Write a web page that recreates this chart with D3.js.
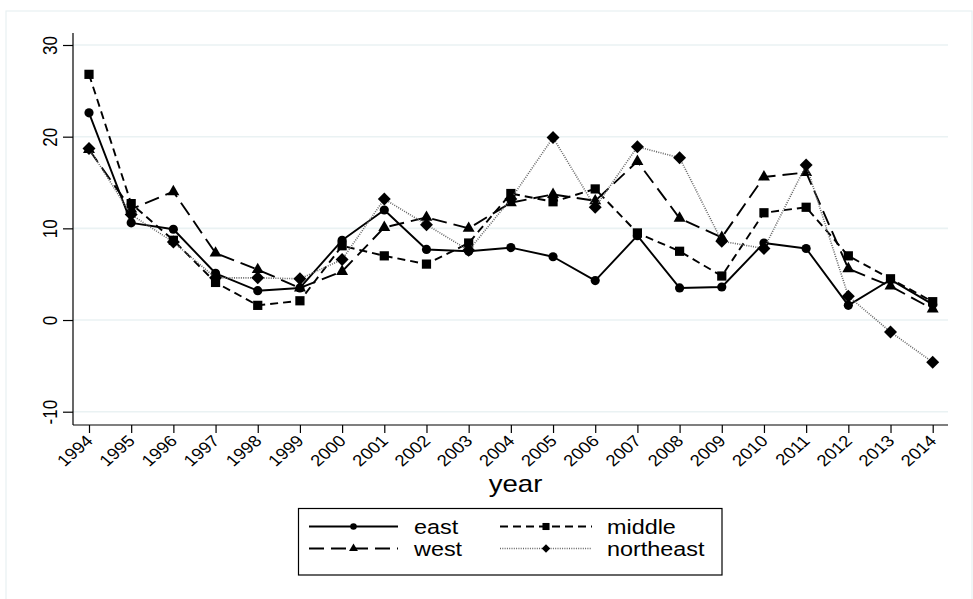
<!DOCTYPE html>
<html>
<head>
<meta charset="utf-8">
<script src="https://cdn.jsdelivr.net/npm/d3@7"></script>
<style>
  html, body { margin: 0; padding: 0; background: #fff; }
  svg { display: block; font-family: "Liberation Sans", Arial, Helvetica, sans-serif; }
</style>
</head>
<body>
<svg id="chart" width="973" height="599"></svg>
<script>
// Annual values by region, 1994-2014
const years = [1994,1995,1996,1997,1998,1999,2000,2001,2002,2003,2004,2005,2006,2007,2008,2009,2010,2011,2012,2013,2014];
const east      = [22.6,10.6,9.9,5.1,3.2,3.5,8.7,12.0,7.7,7.5,7.9,6.9,4.3,9.2,3.5,3.6,8.4,7.8,1.6,4.4,1.7];
const middle    = [26.8,12.7,8.7,4.1,1.6,2.1,8.1,7.0,6.1,8.4,13.8,12.9,14.3,9.5,7.5,4.8,11.7,12.3,7.0,4.5,2.0];
const west      = [18.6,12.1,14.0,7.3,5.5,3.5,5.3,10.1,11.2,10.0,12.8,13.7,13.0,17.3,11.1,9.0,15.6,16.1,5.6,3.7,1.2];
const northeast = [18.7,11.5,8.5,4.6,4.6,4.5,6.6,13.2,10.4,7.6,13.2,19.9,12.3,18.9,17.7,8.6,7.8,16.9,2.6,-1.3,-4.6];
const yTicks = [-10, 0, 10, 20, 30];
const seriesNames = ["east", "middle", "west", "northeast"];

// text in this graph uses a slightly widened face
const WIDE = 1.16;

// diamond drawn as a square turned 45 degrees (size = area)
const symbolRhomb = {
  draw(context, size) {
    const r = Math.sqrt(size / 2);
    context.moveTo(0, -r);
    context.lineTo(r, 0);
    context.lineTo(0, r);
    context.lineTo(-r, 0);
    context.closePath();
  }
};

const series = [
  { name: seriesNames[0], values: east,      dash: null,    color: "#000", width: 1.9, symbol: d3.symbolCircle,   size: 66, lsize: 34 },
  { name: seriesNames[1], values: middle,    dash: "8,5",   color: "#000", width: 1.9, symbol: d3.symbolSquare,   size: 85, lsize: 50 },
  { name: seriesNames[2], values: west,      dash: "15,7",  color: "#000", width: 1.9, symbol: d3.symbolTriangle, size: 62, lsize: 34 },
  { name: seriesNames[3], values: northeast, dash: "1,1.3", color: "#666", width: 1.6, symbol: symbolRhomb,       size: 84, lsize: 36 }
];

const svg = d3.select("#chart");

// outer graph region frame
svg.append("rect")
  .attr("x", 6).attr("y", 11).attr("width", 966).attr("height", 600)
  .attr("fill", "#fff").attr("stroke", "#e8f0f2").attr("stroke-width", 1.2);

const plot = { left: 73, right: 948, top: 33, bottom: 425 };

const x = d3.scalePoint().domain(years).range([89, 932.7]);
const y = d3.scaleLinear().domain([-10, 30]).range([411.7, 45]);

// horizontal grid lines
svg.append("g")
  .selectAll("line")
  .data(yTicks)
  .join("line")
  .attr("x1", plot.left).attr("x2", plot.right)
  .attr("y1", d => y(d)).attr("y2", d => y(d))
  .attr("stroke", "#eaf2f3").attr("stroke-width", 1.6);

// y axis
const yAxis = svg.append("g")
  .attr("transform", `translate(${plot.left},0)`)
  .call(d3.axisLeft(y).tickValues(yTicks).tickSize(10).tickSizeOuter(0).tickFormat(d => String(d)));
yAxis.select(".domain").attr("d", `M0,${plot.top}V${plot.bottom}`).attr("stroke", "#000").attr("stroke-width", 1.2);
yAxis.selectAll(".tick line").attr("stroke", "#000").attr("stroke-width", 1.2);
yAxis.selectAll(".tick text")
  .attr("x", null).attr("dy", null)
  .attr("transform", `translate(-16.5,0) scale(${WIDE},1) rotate(-90)`)
  .attr("text-anchor", "middle")
  .attr("font-size", 17)
  .attr("fill", "#000")
  .attr("font-family", "Liberation Sans, Arial, sans-serif");

// x axis
const xAxis = svg.append("g")
  .attr("transform", `translate(0,${plot.bottom})`)
  .call(d3.axisBottom(x).tickSize(8).tickSizeOuter(0));
xAxis.select(".domain").attr("d", `M${plot.left},0H${plot.right}`).attr("stroke", "#000").attr("stroke-width", 1.2);
xAxis.selectAll(".tick line").attr("y2", 8).attr("stroke", "#000").attr("stroke-width", 1.2);
xAxis.selectAll(".tick text")
  .attr("y", null).attr("dy", null)
  .attr("transform", `translate(1,14) scale(${WIDE},1) rotate(-45)`)
  .attr("text-anchor", "end")
  .attr("dominant-baseline", "middle")
  .attr("font-size", 16)
  .attr("fill", "#000")
  .attr("font-family", "Liberation Sans, Arial, sans-serif");

// x axis title
svg.append("text")
  .attr("transform", `translate(${(plot.left + plot.right) / 2 + 5},492) scale(1.2,1)`)
  .attr("text-anchor", "middle")
  .attr("font-size", 23)
  .attr("fill", "#000")
  .text("year");

// series lines and markers
const line = d3.line().x((d, i) => x(years[i])).y(d => y(d));
series.forEach(s => {
  const g = svg.append("g");
  g.append("path")
    .datum(s.values)
    .attr("d", line)
    .attr("fill", "none")
    .attr("stroke", s.color)
    .attr("stroke-width", s.width)
    .attr("stroke-dasharray", s.dash)
    .attr("stroke-linejoin", "round");
  g.selectAll("path.mark")
    .data(s.values)
    .join("path")
    .attr("class", "mark")
    .attr("transform", (d, i) => `translate(${x(years[i])},${y(d)})`)
    .attr("d", d3.symbol().type(s.symbol).size(s.size))
    .attr("fill", "#000");
});

// legend
const legend = svg.append("g");
legend.append("rect")
  .attr("x", 298.5).attr("y", 508.5).attr("width", 423.5).attr("height", 66.5)
  .attr("fill", "#fff").attr("stroke", "#000").attr("stroke-width", 1.2);

const legendPos = [
  { x0: 309, x1: 398, tx: 414, cy: 526.5 },
  { x0: 500, x1: 592, tx: 607, cy: 526.5 },
  { x0: 309, x1: 398, tx: 414, cy: 548.5 },
  { x0: 500, x1: 592, tx: 607, cy: 548.5 }
];
series.forEach((s, i) => {
  const p = legendPos[i];
  legend.append("line")
    .attr("x1", p.x0).attr("x2", p.x1).attr("y1", p.cy).attr("y2", p.cy)
    .attr("stroke", s.color).attr("stroke-width", s.width)
    .attr("stroke-dasharray", s.dash);
  legend.append("path")
    .attr("transform", `translate(${(p.x0 + p.x1) / 2},${p.cy})`)
    .attr("d", d3.symbol().type(s.symbol).size(s.lsize))
    .attr("fill", "#000");
  legend.append("text")
    .attr("transform", `translate(${p.tx},${p.cy}) scale(1.2,1)`)
    .attr("dy", "0.36em")
    .attr("font-size", 19.5)
    .attr("fill", "#000")
    .text(s.name);
});
</script>
</body>
</html>
